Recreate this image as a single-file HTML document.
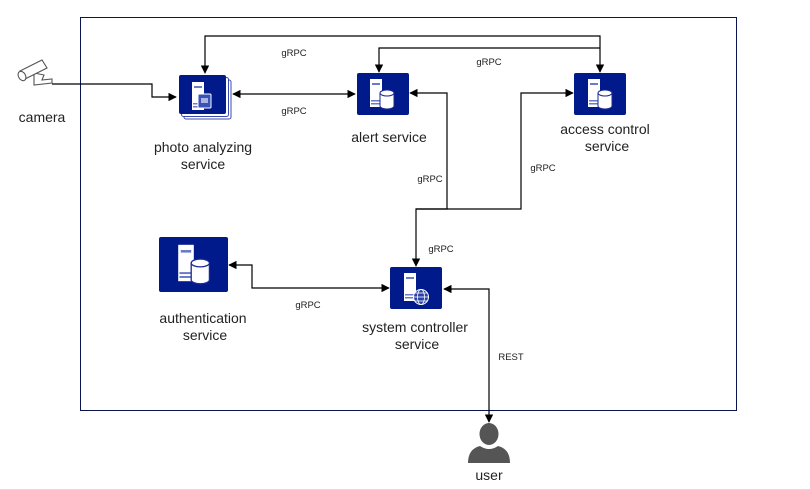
<!DOCTYPE html>
<html><head><meta charset="utf-8"><style>
html,body{margin:0;padding:0;background:#fff;width:810px;height:490px;overflow:hidden}
text{font-family:"Liberation Sans",sans-serif;fill:#222}
.l{font-size:14px;text-anchor:middle}
.s{font-size:9.5px;text-anchor:middle}
</style></head><body>
<svg width="810" height="490" viewBox="0 0 810 490" xmlns="http://www.w3.org/2000/svg">
<defs>
<marker id="a" viewBox="0 0 10 10" refX="9" refY="5" markerWidth="7" markerHeight="7" orient="auto-start-reverse"><path d="M0,0L10,5L0,10z" fill="#000"/></marker>
<g id="srv"><rect x="14" y="6" width="12" height="28" fill="#fff"/><rect x="16" y="10" width="8" height="2" fill="#6b7ac9"/><rect x="15" y="27" width="10" height="1.5" fill="#6b7ac9"/><rect x="15" y="30" width="10" height="1.5" fill="#6b7ac9"/></g>
<g id="cyl"><path d="M24,20 v13 a7,3 0 0 0 14,0 v-13" fill="#fff" stroke="#1a2a95" stroke-width="1"/><ellipse cx="31" cy="20" rx="7" ry="3" fill="#fff" stroke="#1a2a95" stroke-width="1"/></g>
</defs>
<rect x="80.5" y="17.5" width="656" height="393" fill="none" stroke="#0a1450" stroke-width="1"/>
<line x1="0" y1="489.5" x2="810" y2="489.5" stroke="#ddd"/>
<g fill="none" stroke="#000" stroke-width="1.2">
<polyline points="52,84 152,84 152,97 176,97" marker-end="url(#a)"/>
<polyline points="205,73 205,36 600,36 600,72" marker-start="url(#a)" marker-end="url(#a)"/>
<polyline points="379,72 379,48 600,48"  marker-start="url(#a)"/>
<line x1="233" y1="94" x2="355" y2="94" marker-start="url(#a)" marker-end="url(#a)"/>
<polyline points="410,93 447,93 447,209 416,209 416,266" marker-start="url(#a)" marker-end="url(#a)"/>
<polyline points="416,209 521,209 521,93 573,93" marker-end="url(#a)"/>
<polyline points="229,265 252,265 252,288 389,288" marker-start="url(#a)" marker-end="url(#a)"/>
<polyline points="444,289 489,289 489,422" marker-start="url(#a)" marker-end="url(#a)"/>
</g>
<!-- photo analyzing -->
<rect x="184" y="80" width="47" height="39" rx="2" fill="#fff" stroke="#3a4ab0"/>
<rect x="181.5" y="77.5" width="47" height="39" rx="2" fill="#fff" stroke="#3a4ab0"/>
<rect x="179" y="75" width="47" height="39" rx="2" fill="#001a8c"/>
<g transform="translate(178,76)"><use href="#srv"/><rect x="20" y="18" width="13" height="14" rx="1" fill="#3a52b5" stroke="#fff"/><rect x="23" y="22" width="7" height="5" fill="#aab4e0"/></g>
<!-- alert -->
<rect x="357" y="73" width="52" height="42" rx="2" fill="#001a8c"/>
<g transform="translate(356,73)"><use href="#srv"/><use href="#cyl"/></g>
<!-- access -->
<rect x="574" y="73" width="52" height="42" rx="2" fill="#001a8c"/>
<g transform="translate(574,73)"><use href="#srv"/><use href="#cyl"/></g>
<!-- auth -->
<rect x="159" y="237" width="69" height="55" rx="2" fill="#001a8c"/>
<g transform="translate(160,237) scale(1.3)"><use href="#srv"/><use href="#cyl"/></g>
<!-- sys controller -->
<rect x="390" y="267" width="52" height="42" rx="2" fill="#001a8c"/>
<g transform="translate(390,267)"><use href="#srv"/><circle cx="31" cy="30" r="7.5" fill="#2a40a8" stroke="#fff"/><g stroke="#fff" fill="none" stroke-width="0.8"><ellipse cx="31" cy="30" rx="3.5" ry="7.5"/><line x1="23.5" y1="30" x2="38.5" y2="30"/><line x1="25" y1="26" x2="37" y2="26"/><line x1="25" y1="34" x2="37" y2="34"/></g></g>
<!-- camera -->
<g fill="#fff" stroke="#555" stroke-width="1.1">
<path d="M34,73 l0,12 l18,-2 l0,-4 l-10,1 l2,-5z"/>
<path d="M20,71 l22,-11 l5,8 l-22,11z"/>
<ellipse cx="22" cy="76" rx="3.5" ry="5" transform="rotate(-30 22 76)"/>
</g>
<!-- user -->
<g fill="#555"><ellipse cx="489" cy="434" rx="9.5" ry="11"/><path d="M468,463 q0,-14 12,-17 q9,6 18,0 q12,3 12,17z"/></g>
<text class="l" x="42" y="122">camera</text>
<text class="l" x="203" y="152">photo analyzing</text>
<text class="l" x="203" y="169">service</text>
<text class="l" x="389" y="142">alert service</text>
<text class="l" x="605" y="134">access control</text>
<text class="l" x="607" y="151">service</text>
<text class="l" x="203" y="323">authentication</text>
<text class="l" x="205" y="340">service</text>
<text class="l" x="415" y="332">system controller</text>
<text class="l" x="417" y="349">service</text>
<text class="l" x="489" y="480">user</text>
<text class="s" x="294" y="56">gRPC</text>
<text class="s" x="294" y="114">gRPC</text>
<text class="s" x="489" y="65">gRPC</text>
<text class="s" x="430" y="182">gRPC</text>
<text class="s" x="543" y="171">gRPC</text>
<text class="s" x="441" y="252">gRPC</text>
<text class="s" x="308" y="308">gRPC</text>
<text class="s" x="511" y="360">REST</text>
</svg>
</body></html>
